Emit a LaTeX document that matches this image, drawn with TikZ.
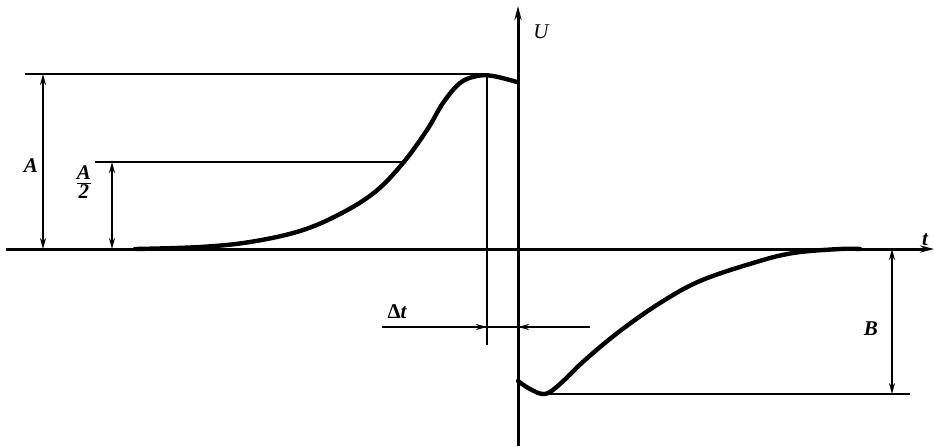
\documentclass[tikz,border=0pt]{standalone}
\usepackage{fontspec}
\setmainfont{Liberation Serif}
\usetikzlibrary{arrows.meta}
\begin{document}
\begin{tikzpicture}[x=0.5pt,y=-0.5pt,
  axis/.style={line width=1.5pt},
  thinln/.style={line width=0.9pt},
  curve/.style={line width=2.2pt, line cap=round, line join=round},
  tip/.style={-{Stealth[length=5.5pt,width=3pt]}},
  axtip/.style={-{Stealth[length=7pt,width=3.6pt]}},
  dim/.style={line width=0.9pt, {Stealth[length=5.5pt,width=3pt]}-{Stealth[length=5.5pt,width=3pt]}},
  lbl/.style={font=\fontsize{10.5}{12}\selectfont\bfseries\itshape, inner sep=1pt}]
\useasboundingbox (0,0) rectangle (934,446);
% axes
\coordinate (tS) at (6,249);
\coordinate (tE) at (934,249);
\coordinate (uS) at (518,446);
\coordinate (uE) at (518,6);
\draw[axis,axtip] (tS) -- (tE);
\draw[axis,axtip] (uS) -- (uE);
\node[lbl] (U) at (541,32) {\mdseries U};
\node[lbl] (t) at (925,240) {t};
% upper curve
\draw[curve] plot[smooth, tension=0.6] coordinates {(135,249) (200,247) (250,242) (300,231) (340,214) (375,192) (403,163) (427,130) (443,103) (460,83) (477,76) (493,76) (517,82)};
% A level lines
\coordinate (aL) at (25,74);
\coordinate (aR) at (482,74);
\draw[thinln] (aL) -- (aR);
\coordinate (hL) at (95,162);
\coordinate (hR) at (403,162);
\draw[thinln] (hL) -- (hR);
\coordinate (aT) at (43,74);
\coordinate (aB) at (43,249);
\draw[dim] (aT) -- (aB);
\coordinate (hT) at (112,162);
\coordinate (hB) at (112,249);
\draw[dim] (hT) -- (hB);
\node[lbl] (A) at (31,166) {A};
\node[lbl] (A2) at (84,182) {$\frac{\textbf{\textit{A}}}{\textbf{2}}$};
% delta t
\coordinate (vT) at (487,75);
\coordinate (vB) at (487,345);
\draw[thinln] (vT) -- (vB);
\coordinate (dL) at (382,327);
\coordinate (dR) at (590,327);
\coordinate (d1) at (487,327);
\coordinate (d2) at (518,327);
\draw[thinln] (dL) -- (dR);
\draw[thinln,tip] (dL) -- (d1);
\draw[thinln,tip] (dR) -- (d2);
\node[lbl] (dt) at (397,312) {{\upshape Δ}t};
% lower curve
\draw[curve] plot[smooth, tension=0.6] coordinates {(518,381) (530,389) (545,394) (560,384) (585,360) (620,331) (660,303) (700,281) (753,263) (793,253) (840,249) (860,249)};
\coordinate (bL) at (545,394);
\coordinate (bR) at (910,394);
\draw[thinln] (bL) -- (bR);
\coordinate (bT) at (892,249);
\coordinate (bB) at (892,394);
\draw[dim] (bT) -- (bB);
\node[lbl] (B) at (871,329) {B};
\end{tikzpicture}
\end{document}
